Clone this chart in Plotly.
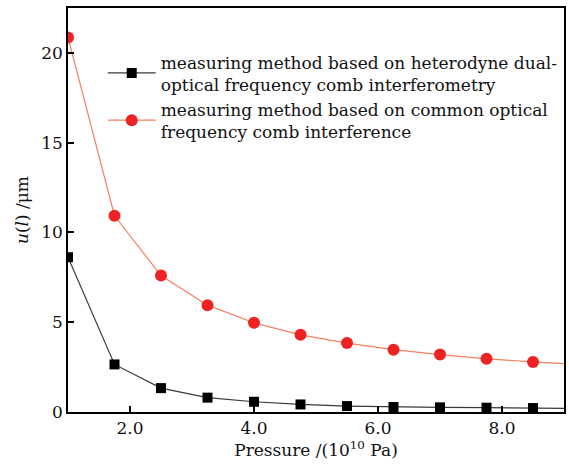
import plotly.graph_objects as go

pressure = [1.0, 1.75, 2.5, 3.25, 4.0, 4.75, 5.5, 6.25, 7.0, 7.75, 8.5, 9.25]
u_heterodyne = [8.62, 2.65, 1.33, 0.80, 0.57, 0.42, 0.33, 0.28, 0.26, 0.24, 0.22, 0.20]
u_common = [20.86, 10.93, 7.60, 5.95, 4.97, 4.30, 3.84, 3.47, 3.20, 2.96, 2.79, 2.65]

name_het = "measuring method based on heterodyne dual-<br>optical frequency comb interferometry"
name_com = "measuring method based on common optical<br>frequency comb interference"

font_family = "DejaVu Serif"

fig = go.Figure()
fig.add_trace(go.Scatter(
    x=pressure, y=u_heterodyne, mode="lines+markers", name=name_het,
    line=dict(color="#3a3a3a", width=1.2),
    marker=dict(symbol="square", size=10, color="#000000"),
))
fig.add_trace(go.Scatter(
    x=pressure, y=u_common, mode="lines+markers", name=name_com,
    line=dict(color="#f4805e", width=1.2),
    marker=dict(symbol="circle", size=12, color="#ee2222"),
))

axis_common = dict(
    showgrid=False, zeroline=False, showline=True, linecolor="#000", linewidth=1.5,
    mirror=True, ticks="inside", ticklen=6, tickwidth=1.5, tickcolor="#000",
    tickfont=dict(family=font_family, size=17, color="#111"),
)

fig.update_layout(
    width=569, height=465,
    margin=dict(l=68, r=3, t=8, b=53),
    plot_bgcolor="white", paper_bgcolor="white",
    font=dict(family=font_family, color="#111"),
    xaxis=dict(**axis_common, range=[1, 9], tickvals=[2, 4, 6, 8], ticktext=["2.0", "4.0", "6.0", "8.0"],
               title=dict(text="Pressure /(10<sup>10</sup> Pa)", font=dict(family=font_family, size=17), standoff=2)),
    yaxis=dict(**axis_common, range=[0, 22.5], tickvals=[0, 5, 10, 15, 20],
               title=dict(text="<i>u</i>(<i>l</i>) /μm", font=dict(family=font_family, size=17), standoff=8)),
    legend=dict(x=0.07, y=0.91, xanchor="left", yanchor="top", bgcolor="rgba(0,0,0,0)",
                font=dict(family=font_family, size=17, color="#111"), tracegroupgap=2,
                itemwidth=48),
)

fig.write_html("out.html")
